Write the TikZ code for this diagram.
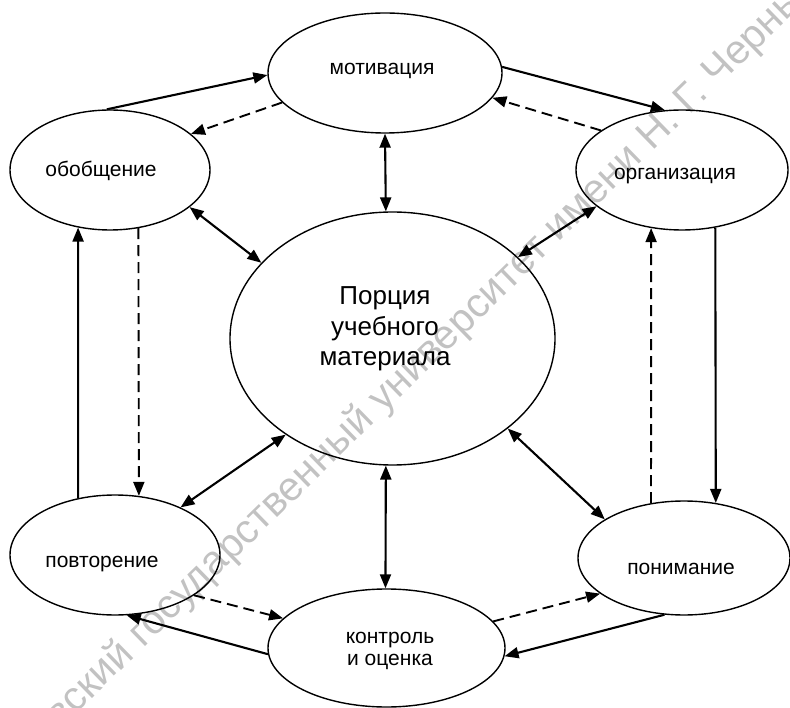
\documentclass[tikz,border=0pt]{standalone}
\usepackage{fontspec}
\setmainfont{Liberation Sans}
\usetikzlibrary{arrows.meta,shapes.geometric}
\begin{document}
\begin{tikzpicture}[x=1pt,y=-1pt,
  oval/.style={ellipse, draw, line width=1.4pt, inner sep=0pt},
  lbl/.style={font=\fontsize{21}{24}\selectfont, inner sep=0pt, anchor=base, align=center},
  wmark/.style={rotate=44.3, inner sep=0pt, text=black!24, font=\fontsize{40.7}{40.7}\selectfont},
  myhead/.tip={Triangle[length=14pt,width=11pt]},
  solidarr/.style={line width=2.1pt, -myhead},
  dasharr/.style={line width=1.9pt, -myhead, dash pattern=on 11pt off 6pt},
  twoway/.style={line width=2.1pt, myhead-myhead},
]
\useasboundingbox (0,0) rectangle (790,708);
% watermark
\begin{scope}
\clip (0,0) rectangle (790,708);
\coordinate (wmsplit) at (652,152);
\node[wmark, anchor=base east] (wm1) at (wmsplit) {Саратовский государственный университет имени\kern0.278em};
\node[wmark, anchor=base west] (wm2) at (wmsplit) {Н. Г. Чернышевского};
\end{scope}
% ellipses
\node[oval, minimum width=234pt, minimum height=120pt] (M) at (385,73) {};
\node[oval, minimum width=200pt, minimum height=120pt] (O) at (110,170) {};
\node[oval, minimum width=212pt, minimum height=120pt] (G) at (682,170) {};
\node[oval, minimum width=325pt, minimum height=253pt] (C) at (392.5,338.5) {};
\node[oval, minimum width=210pt, minimum height=120pt] (P) at (115,555) {};
\node[oval, minimum width=212pt, minimum height=114pt] (N) at (684,558) {};
\node[oval, minimum width=237pt, minimum height=118pt] (K) at (386.5,648) {};
% labels
\node[lbl] (tM) at (382,75) {мотивация};
\node[lbl] (tO) at (101,177) {обобщение};
\node[lbl] (tG) at (675,180) {организация};
\node[lbl] (tP) at (102,567) {повторение};
\node[lbl] (tN) at (681,574) {понимание};
\node[lbl, font=\fontsize{21}{22}\selectfont] (tK) at (390,665) {контроль\\и оценка};
\node[lbl, font=\fontsize{26}{30.5}\selectfont] (tC) at (385,366) {Порция\\учебного\\материала};
% connectors
\draw[solidarr] (O.93) -- (M.181);
\draw[dasharr] (M.196.4) -- (O.24.6);
\draw[solidarr] (M.3.9) -- (G.106);
\draw[dasharr] (G.154.9) -- (M.-13.4);
\draw[twoway] (M.-90) -- (C.93.4);
\draw[twoway] (O.-25.4) -- (C.150);
\draw[twoway] (G.203) -- (C.33.2);
\draw[solidarr] (G.-60) -- (N.60.4);
\draw[dasharr] (N.121.3) -- (G.-118.4);
\draw[twoway] (C.-38.7) -- (N.154);
\draw[solidarr] (N.-109.5) -- (K.-4.4);
\draw[dasharr] (K.14.9) -- (N.203.4);
\draw[twoway] (C.-93.4) -- (K.91.9);
\draw[solidarr] (K.183.4) -- (P.-79);
\draw[dasharr] (P.-27.2) -- (K.164.4);
\draw[twoway] (P.36.4) -- (C.222.6);
\draw[solidarr] (P.123.4) -- (O.-119.4);
\draw[dasharr] (O.-64.1) -- (P.68.5);
\end{tikzpicture}
\end{document}
